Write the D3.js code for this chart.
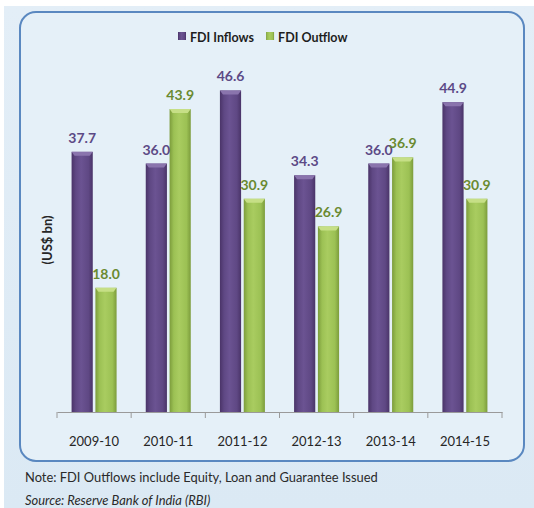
<!DOCTYPE html>
<html>
<head>
<meta charset="utf-8">
<script src="https://cdn.jsdelivr.net/npm/d3@7"></script>
<style>
  html, body { margin: 0; padding: 0; background: #ffffff; }
  svg { display: block; }
</style>
</head>
<body>
<svg id="chart" width="534" height="508"></svg>
<script>
// data
const years = ["2009-10", "2010-11", "2011-12", "2012-13", "2013-14", "2014-15"]
const inflows = [37.7, 36.0, 46.6, 34.3, 36.0, 44.9]
const outflows = [18.0, 43.9, 30.9, 26.9, 36.9, 30.9]
const seriesNames = ["FDI Inflows", "FDI Outflow"]

const svg = d3.select("#chart")
const W = 534, H = 508

// gradients for the bevelled bars
const defs = svg.append("defs")
function barGrad(id, dark, mid, light) {
  const g = defs.append("linearGradient").attr("id", id)
    .attr("x1", "0%").attr("x2", "100%").attr("y1", "0%").attr("y2", "0%")
  g.append("stop").attr("offset", "0%").attr("stop-color", dark)
  g.append("stop").attr("offset", "20%").attr("stop-color", mid)
  g.append("stop").attr("offset", "45%").attr("stop-color", light)
  g.append("stop").attr("offset", "80%").attr("stop-color", mid)
  g.append("stop").attr("offset", "100%").attr("stop-color", dark)
}
barGrad("gIn", "#4a3468", "#5f4884", "#6b5392")
barGrad("gOut", "#7c9c3c", "#9cc154", "#a9cc60")
const bg = defs.append("linearGradient").attr("id", "bgGrad")
  .attr("x1", "0%").attr("x2", "0%").attr("y1", "0%").attr("y2", "100%")
bg.append("stop").attr("offset", "0%").attr("stop-color", "#e3eef7")
bg.append("stop").attr("offset", "100%").attr("stop-color", "#dbe9f4")

svg.append("rect").attr("x", 4).attr("y", 6).attr("width", W - 4).attr("height", H - 6)
  .attr("fill", "url(#bgGrad)")

// panel
svg.append("rect")
  .attr("x", 20).attr("y", 12).attr("width", 504).attr("height", 449)
  .attr("rx", 16).attr("ry", 16)
  .attr("fill", "#e5f0f8").attr("stroke", "#5a88c0").attr("stroke-width", 2)

const colors = d3.scaleOrdinal().domain(seriesNames).range(["url(#gIn)", "url(#gOut)"])
const capColors = d3.scaleOrdinal().domain(seriesNames).range(["#8a74ad", "#c6df86"])
const labelColors = d3.scaleOrdinal().domain(seriesNames).range(["#5c4a86", "#6a8a30"])

const x = d3.scaleBand().domain(years).range([57, 502]).padding(0)
const x1 = d3.scaleBand().domain(seriesNames).range([-22.5, 22.5]).paddingInner(0.111)
const y = d3.scaleLinear().domain([0, 50]).range([412, 67])

const rows = years.map((yr, i) => ({
  year: yr,
  vals: [
    { name: seriesNames[0], value: inflows[i] },
    { name: seriesNames[1], value: outflows[i] }
  ]
}))

// x axis
const axis = svg.append("g")
  .attr("transform", `translate(0,${y(0)})`)
  .call(d3.axisBottom(x).tickSize(0).tickPadding(0).tickFormat(""))
axis.select(".domain").attr("stroke", "#9a9a9a").attr("stroke-width", 1)
axis.selectAll(".tick").remove()
const bounds = years.map(d => x(d)).concat([x.range()[1]])
svg.selectAll("line.sep").data(bounds).enter().append("line")
  .attr("class", "sep")
  .attr("x1", d => d).attr("x2", d => d)
  .attr("y1", y(0)).attr("y2", y(0) + 6)
  .attr("stroke", "#9a9a9a")
svg.selectAll("text.cat").data(years).enter().append("text")
  .attr("class", "cat")
  .attr("x", d => x(d) + x.bandwidth() / 2)
  .attr("y", 446)
  .attr("text-anchor", "middle")
  .style("font-family", "Lato, 'Open Sans', sans-serif")
  .style("font-size", "13px")
  .style("fill", "#262626")
  .text(d => d)

// bars
const group = svg.selectAll("g.grp").data(rows).enter().append("g")
  .attr("class", "grp")
  .attr("transform", d => `translate(${x(d.year) + x.bandwidth() / 2},0)`)

group.selectAll("rect.bar").data(d => d.vals).enter().append("rect")
  .attr("class", "bar")
  .attr("x", d => x1(d.name))
  .attr("width", x1.bandwidth())
  .attr("y", d => y(d.value))
  .attr("height", d => y(0) - y(d.value))
  .attr("fill", d => colors(d.name))

// top bevel
group.selectAll("path.cap").data(d => d.vals).enter().append("path")
  .attr("class", "cap")
  .attr("d", d => {
    const x0 = x1(d.name), w = x1.bandwidth(), t = y(d.value)
    return `M${x0},${t} L${x0 + w},${t} L${x0 + w - 3},${t + 4} L${x0 + 3},${t + 4} Z`
  })
  .attr("fill", d => capColors(d.name))

group.selectAll("text.val").data(d => d.vals).enter().append("text")
  .attr("class", "val")
  .attr("x", d => x1(d.name) + x1.bandwidth() / 2)
  .attr("y", d => y(d.value) - 9)
  .attr("text-anchor", "middle")
  .style("font-family", "Lato, 'Open Sans', sans-serif")
  .style("font-weight", "bold")
  .style("font-size", "14px")
  .style("fill", d => labelColors(d.name))
  .text(d => d.value.toFixed(1))

// y title
svg.append("text")
  .attr("transform", "translate(52,240) rotate(-90)")
  .attr("text-anchor", "middle")
  .style("font-family", "Lato, 'Open Sans', sans-serif")
  .style("font-weight", "bold")
  .style("font-size", "13px")
  .style("fill", "#262626")
  .text("(US$ bn)")

// legend, items laid out by measured text width
const legend = svg.append("g").attr("transform", "translate(178,32)")
let lx = 0
seriesNames.forEach(name => {
  const item = legend.append("g").attr("transform", `translate(${lx},0)`)
  item.append("rect").attr("width", 8).attr("height", 8).attr("fill", colors(name))
  const t = item.append("text").attr("x", 12).attr("y", 9.5)
    .style("font-family", "Lato, 'Open Sans', sans-serif")
    .style("font-weight", "bold")
    .style("font-size", "12.5px")
    .style("fill", "#1e1e1e")
    .text(name)
  lx += 12 + t.node().getComputedTextLength() + 12
})

// footnotes
svg.append("text").attr("x", 25).attr("y", 482)
  .style("font-family", "Lato, 'Open Sans', sans-serif")
  .style("font-size", "12.9px")
  .style("fill", "#2a2a2a")
  .text("Note: FDI Outflows include Equity, Loan and Guarantee Issued")
svg.append("text").attr("x", 25).attr("y", 505)
  .style("font-family", "Lato, 'Open Sans', sans-serif")
  .style("font-size", "12.9px")
  .style("font-style", "italic")
  .style("fill", "#2a2a2a")
  .text("Source: Reserve Bank of India (RBI)")
</script>
</body>
</html>
